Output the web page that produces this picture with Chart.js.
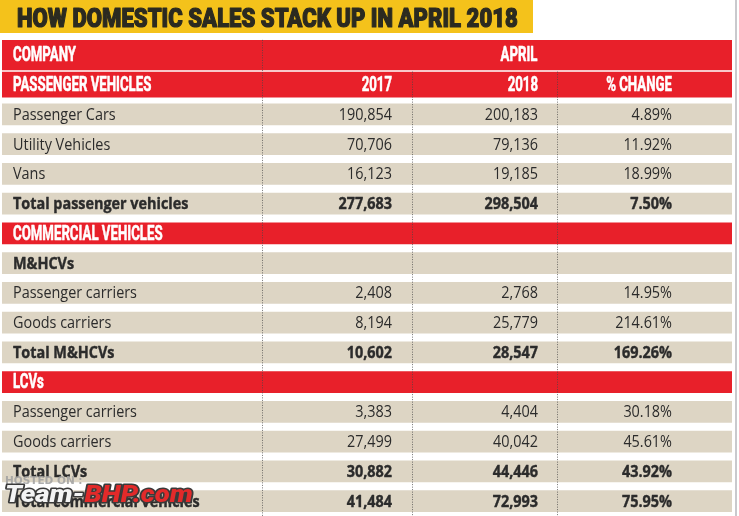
<!DOCTYPE html>
<html>
<head>
<meta charset="utf-8">
<script src="https://cdn.jsdelivr.net/npm/chart.js@4.4.1/dist/chart.umd.min.js"></script>
<style>
  html, body { margin: 0; padding: 0; background: #fff; }
  canvas { display: block; }
</style>
</head>
<body>
<canvas id="salesTable" width="739" height="516"></canvas>
<script>
// table content
var title = 'HOW DOMESTIC SALES STACK UP IN APRIL 2018';
var rows = ['COMPANY', 'PASSENGER VEHICLES', 'Passenger Cars', 'Utility Vehicles', 'Vans',
  'Total passenger vehicles', 'COMMERCIAL VEHICLES', 'M&HCVs', 'Passenger carriers',
  'Goods carriers', 'Total M&HCVs', 'LCVs', 'Passenger carriers', 'Goods carriers',
  'Total LCVs', 'Total commercial vehicles'];
// head = top header, section = red band, item = plain row, total = bold row, sub = bold label only
var rowKind = ['head', 'head', 'item', 'item', 'item', 'total', 'section', 'sub', 'item',
  'item', 'total', 'section', 'item', 'item', 'total', 'total'];
var monthHead = 'APRIL';
var colHeads = ['2017', '2018', '% CHANGE'];
var sales2017 = [null, null, 190854, 70706, 16123, 277683, null, null, 2408, 8194, 10602,
  null, 3383, 27499, 30882, 41484];
var sales2018 = [null, null, 200183, 79136, 19185, 298504, null, null, 2768, 25779, 28547,
  null, 4404, 40042, 44446, 72993];
var pctChange = [null, null, 4.89, 11.92, 18.99, 7.50, null, null, 14.95, 214.61, 169.26,
  null, 30.18, 45.61, 43.92, 75.95];

// layout (x scale units)
var tableW = 730;
var colLines = [260, 410, 555];
var RED = '#e8202a', BEIGE = '#ddd5c4', INK = '#2b2b2b';

function fullRow(test) {
  return rows.map(function (r, i) { return test(i) ? [0, tableW] : null; });
}

// text with horizontal squeeze; heavy > 0 adds a stroke to fatten the glyphs
function txt(ctx, s, x, y, font, align, sx, color, heavy) {
  ctx.save();
  ctx.font = font;
  ctx.fillStyle = color;
  ctx.textBaseline = 'middle';
  ctx.textAlign = 'left';
  var w = ctx.measureText(s).width * sx;
  var x0 = align === 'right' ? x - w : (align === 'center' ? x - w / 2 : x);
  ctx.translate(x0, y);
  ctx.scale(sx, 1);
  if (heavy) {
    ctx.strokeStyle = color;
    ctx.lineWidth = heavy;
    ctx.lineJoin = 'round';
    ctx.strokeText(s, 0, 0);
  }
  ctx.fillText(s, 0, 0);
  ctx.restore();
}

var HEAD_FONT = '700 21px Roboto';
var BODY_FONT = '400 16px "Open Sans"';
var BOLD_FONT = '700 16px "Open Sans"';
var HEAD_SX = 0.63;

var tablePlugin = {
  id: 'tableText',
  beforeDraw: function (chart) {
    var ctx = chart.ctx;
    // title strip
    ctx.save();
    ctx.fillStyle = '#f4c21b';
    ctx.fillRect(0, 0, 533, 33);
    ctx.restore();
    txt(ctx, title, 17, 20, '900 26px Roboto', 'left', 0.85, '#2b2a20', 1.2);
    // right border
    ctx.save();
    ctx.fillStyle = '#c9c9cd';
    ctx.fillRect(chart.width - 4, 0, 2, chart.height);
    ctx.restore();
  },
  afterDatasetsDraw: function (chart) {
    var ctx = chart.ctx;
    var xs = chart.scales.x, ys = chart.scales.y;
    var X = function (v) { return xs.getPixelForValue(v); };

    // dotted column separators
    ctx.save();
    ctx.strokeStyle = 'rgba(70,70,70,0.75)';
    ctx.lineWidth = 1;
    ctx.setLineDash([1, 1.5]);
    colLines.forEach(function (c, k) {
      var top = k === 0 ? ys.getPixelForValue(0) - 15 : ys.getPixelForValue(1) - 13;
      ctx.beginPath();
      ctx.moveTo(Math.round(X(c)) + 0.5, top);
      ctx.lineTo(Math.round(X(c)) + 0.5, chart.height);
      ctx.stroke();
    });
    ctx.restore();

    rows.forEach(function (label, i) {
      var y = ys.getPixelForValue(i) + 1;
      var kind = rowKind[i];
      if (kind === 'head' || kind === 'section') {
        txt(ctx, label, X(11), y, HEAD_FONT, 'left', HEAD_SX, '#fff', 0.6);
        if (i === 0) {
          txt(ctx, monthHead, X(517), y, HEAD_FONT, 'center', HEAD_SX, '#fff', 0.6);
        }
        if (i === 1) {
          txt(ctx, colHeads[0], X(390), y, HEAD_FONT, 'right', HEAD_SX, '#fff', 0.6);
          txt(ctx, colHeads[1], X(536), y, HEAD_FONT, 'right', HEAD_SX, '#fff', 0.6);
          txt(ctx, colHeads[2], X(670), y, HEAD_FONT, 'right', HEAD_SX, '#fff', 0.6);
        }
        return;
      }
      var bold = kind !== 'item';
      var f = bold ? BOLD_FONT : BODY_FONT;
      var sx = 0.9;
      var hv = bold ? 0.4 : 0;
      txt(ctx, label, X(11), y, f, 'left', sx, INK, hv);
      if (sales2017[i] !== null) {
        txt(ctx, sales2017[i].toLocaleString('en-US'), X(390), y, f, 'right', sx, INK, hv);
        txt(ctx, sales2018[i].toLocaleString('en-US'), X(536), y, f, 'right', sx, INK, hv);
        txt(ctx, pctChange[i].toFixed(2) + '%', X(670), y, f, 'right', sx, INK, hv);
      }
    });

    // watermark
    txt(ctx, 'HOSTED ON :', 5, 481, '700 10px "DejaVu Sans"', 'left', 1.05, 'rgba(160,160,160,0.85)');
    ctx.save();
    ctx.translate(5, 496);
    ctx.scale(1.2, 1);
    ctx.font = 'italic 900 23px Roboto';
    ctx.textBaseline = 'middle';
    ctx.lineWidth = 3;
    ctx.strokeStyle = '#3a3a3a';
    ctx.lineJoin = 'round';
    ctx.strokeText('Team-', 0, 0);
    ctx.fillStyle = '#f4f4f4';
    ctx.fillText('Team-', 0, 0);
    var tw = ctx.measureText('Team-').width;
    ctx.strokeText('BHP.com', tw, 0);
    ctx.fillStyle = '#e22a2a';
    ctx.fillText('BHP.com', tw, 0);
    ctx.restore();
  }
};

var ctx = document.getElementById('salesTable').getContext('2d');
var chart = new Chart(ctx, {
  type: 'bar',
  data: {
    labels: rows,
    datasets: [{
      data: fullRow(function (i) { return rowKind[i] !== 'head'; }),
      backgroundColor: rowKind.map(function (k) { return k === 'section' ? RED : BEIGE; }),
      barThickness: 21,
      grouped: false
    }, {
      data: fullRow(function (i) { return i === 1; }),
      backgroundColor: RED,
      barThickness: 25,
      grouped: false
    }, {
      data: fullRow(function (i) { return i === 0; }),
      backgroundColor: RED,
      barThickness: 30,
      grouped: false
    }]
  },
  options: {
    indexAxis: 'y',
    responsive: false,
    devicePixelRatio: 1,
    animation: false,
    layout: { padding: { left: 2, right: 7, top: 40, bottom: 0 } },
    scales: {
      x: { type: 'linear', min: 0, max: tableW, display: false },
      y: { type: 'category', display: false, offset: true }
    },
    plugins: {
      legend: { display: false },
      tooltip: { enabled: false },
      title: { display: false }
    }
  },
  plugins: [tablePlugin]
});
</script>
</body>
</html>
